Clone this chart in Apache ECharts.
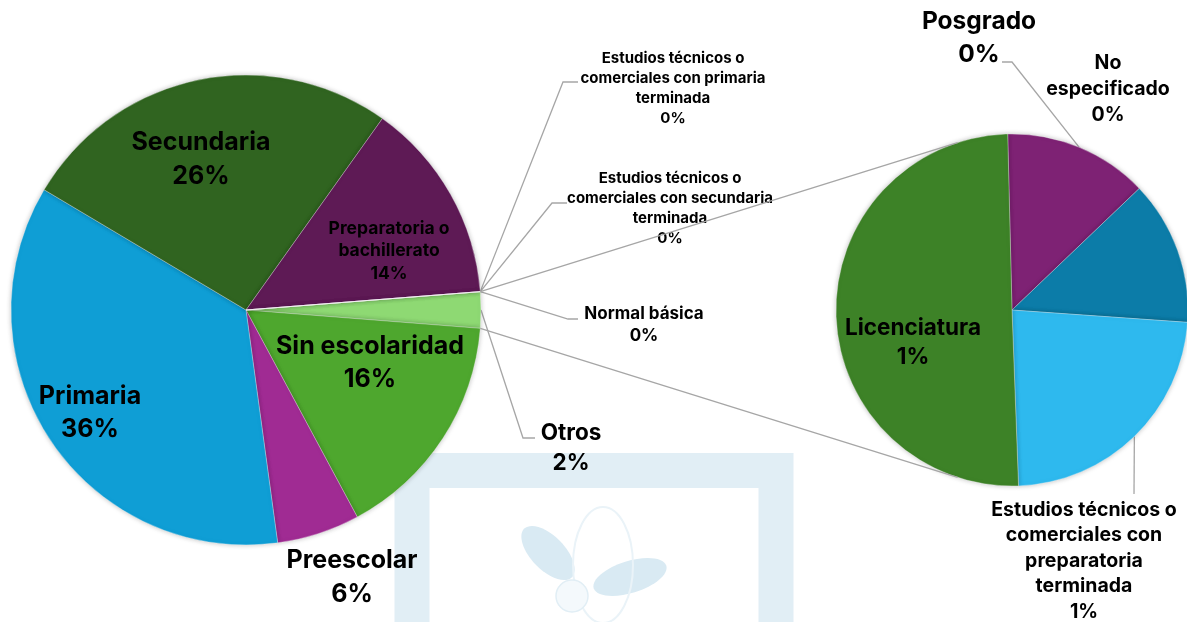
<!DOCTYPE html>
<html>
<head>
<meta charset="utf-8">
<script src="https://cdn.jsdelivr.net/npm/echarts@6/dist/echarts.min.js"></script>
<style>
  html, body { margin: 0; padding: 0; background: #ffffff; }
  #chart { width: 1187px; height: 622px; }
</style>
</head>
<body>
<div id="chart"></div>
<script>
// main pie categories (clockwise after the "Otros" wedge), % of total
const mainNames = ['Sin escolaridad', 'Preescolar', 'Primaria', 'Secundaria', 'Preparatoria o bachillerato'];
const mainValues = [15.9, 5.7, 35.7, 26.3, 13.9];
const mainColors = ['#4EA72E', '#A02B93', '#0F9ED5', '#306420', '#5E1A55'];
const othersName = 'Otros';
const othersColor = '#8ED973';

// breakdown of "Otros" (secondary pie), % of total
const otherNames = [
  'Posgrado',
  'No especificado',
  'Estudios técnicos o comerciales con preparatoria terminada',
  'Licenciatura',
  'Estudios técnicos o comerciales con primaria terminada',
  'Estudios técnicos o comerciales con secundaria terminada',
  'Normal básica'
];
const otherValues = [0.33, 0.33, 0.58, 1.25, 0, 0, 0];
const otherColors = ['#7E2274', '#0C7CA8', '#2EB9EE', '#3D8227', '#999999', '#999999', '#999999'];

// label wrapping as in the original
const wrapped = {
  'Preparatoria o bachillerato': 'Preparatoria o\nbachillerato',
  'No especificado': 'No\nespecificado',
  'Estudios técnicos o comerciales con preparatoria terminada': 'Estudios técnicos o\ncomerciales con\npreparatoria\nterminada',
  'Estudios técnicos o comerciales con primaria terminada': 'Estudios técnicos o\ncomerciales con primaria\nterminada',
  'Estudios técnicos o comerciales con secundaria terminada': 'Estudios técnicos o\ncomerciales con secundaria\nterminada'
};

// label placement (px), font size, line height and leader-line elbows
const labelPlace = {
  'Otros': { x: 571, y: 448, size: 22.5, lh: 30, line: [[523, 438], [535, 438]] },
  'Sin escolaridad': { x: 370, y: 363, size: 25, lh: 33 },
  'Preescolar': { x: 352, y: 577, size: 25, lh: 34 },
  'Primaria': { x: 90, y: 413, size: 25, lh: 33 },
  'Secundaria': { x: 201, y: 159, size: 25, lh: 34 },
  'Preparatoria o bachillerato': { x: 389, y: 251, size: 17.5, lh: 22.5 },
  'Estudios técnicos o comerciales con primaria terminada': { x: 673, y: 88, size: 15, lh: 20, line: [[563, 82], [578, 82]] },
  'Estudios técnicos o comerciales con secundaria terminada': { x: 670, y: 208, size: 15, lh: 20, line: [[552, 203], [567, 203]] },
  'Normal básica': { x: 644, y: 325, size: 17, lh: 22.7, line: [[568, 319], [578, 319]] },
  'Posgrado': { x: 979, y: 38, size: 24.5, lh: 33.3, line: [[1012, 62], [1002, 62]] },
  'No especificado': { x: 1108, y: 89, size: 19.5, lh: 26 },
  'Estudios técnicos o comerciales con preparatoria terminada': { x: 1084, y: 561, size: 19.5, lh: 25.6, line: [[1134, 494]] },
  'Licenciatura': { x: 913, y: 343, size: 22.5, lh: 29 }
};

const MAIN_C = [246, 310], MAIN_R = 235;
const SUB_C = [1012, 310], SUB_R = 176;
const SUB_START = 91.4;
const LINK_ANGLE = 108;
const FONT = 'Inter, "Noto Sans", sans-serif';
const GREY = '#A6A6A6';

const othersSum = otherValues.reduce((a, b) => a + b, 0);
const grandTotal = mainValues.reduce((a, b) => a + b, 0) + othersSum;
const mainStart = othersSum / grandTotal * 180; // "Otros" centred on 3 o'clock

function pct(v) { return Math.round(v / grandTotal * 100) + '%'; }

function item(name, value, color) {
  const p = labelPlace[name];
  return {
    name: name,
    value: value,
    itemStyle: { color: color },
    label: { fontSize: p.size, lineHeight: p.lh },
    labelLine: { show: !!p.line }
  };
}

const mainData = [item(othersName, othersSum, othersColor)]
  .concat(mainNames.map((n, i) => item(n, mainValues[i], mainColors[i])))
  .concat(otherNames.map((n, i) => ({ n, v: otherValues[i], c: otherColors[i] }))
    .filter(d => d.v === 0).map(d => item(d.n, d.v, d.c)));

const subData = otherNames.map((n, i) => ({ n, v: otherValues[i], c: otherColors[i] }))
  .filter(d => d.v > 0).map(d => item(d.n, d.v, d.c));

function layoutFor(data) {
  return function (params) {
    const p = labelPlace[data[params.dataIndex].name];
    const out = { x: p.x, y: p.y, align: 'center', verticalAlign: 'middle' };
    if (p.line && params.labelLinePoints) {
      out.labelLinePoints = [params.labelLinePoints[0]].concat(p.line);
    }
    return out;
  };
}

const baseSeries = {
  type: 'pie',
  clockwise: true,
  avoidLabelOverlap: false,
  minShowLabelAngle: 0,
  label: {
    show: true,
    position: 'outside',
    overflow: 'none',
    color: '#000000',
    fontWeight: 'bold',
    fontFamily: FONT,
    formatter: (p) => (wrapped[p.name] || p.name) + '\n' + pct(p.value)
  },
  labelLine: { length: 10, length2: 10, lineStyle: { color: GREY, width: 1.3 } },
  itemStyle: {
    borderColor: 'rgba(255,255,255,0.6)',
    borderWidth: 0.5,
    shadowBlur: 5,
    shadowColor: 'rgba(0,0,0,0.25)'
  },
  emphasis: { disabled: true }
};

function polar(c, r, deg) {
  const a = deg * Math.PI / 180;
  return [c[0] + r * Math.cos(a), c[1] - r * Math.sin(a)];
}

const topA = polar(MAIN_C, MAIN_R, mainStart);
const botA = polar(MAIN_C, MAIN_R, -mainStart);
const topB = polar(SUB_C, SUB_R, LINK_ANGLE);
const botB = polar(SUB_C, SUB_R, -LINK_ANGLE);

const WM = '#E1EEF5', WM2 = '#D9EAF3';

const option = {
  animation: false,
  backgroundColor: '#ffffff',
  textStyle: { fontFamily: FONT },
  graphic: [
    // faint watermark behind the chart
    { type: 'rect', z: 0, silent: true, shape: { x: 412, y: 470.5, width: 364, height: 200 },
      style: { fill: null, stroke: WM, lineWidth: 35 } },
    { type: 'ellipse', z: 0, silent: true, x: 548, y: 553, rotation: -0.8,
      shape: { cx: 0, cy: 0, rx: 34, ry: 17 }, style: { fill: WM2 } },
    { type: 'ellipse', z: 0, silent: true, x: 630, y: 577, rotation: 0.3,
      shape: { cx: 0, cy: 0, rx: 38, ry: 16 }, style: { fill: WM2 } },
    { type: 'ellipse', z: 0, silent: true,
      shape: { cx: 603, cy: 565, rx: 30, ry: 58 }, style: { fill: null, stroke: '#EAF3F8', lineWidth: 2 } },
    { type: 'circle', z: 0, silent: true,
      shape: { cx: 572, cy: 596, r: 16 }, style: { fill: '#F4F9FC', stroke: WM, lineWidth: 1.5 } },
    // connector lines between the two pies
    { type: 'line', z: 100, silent: true,
      shape: { x1: topA[0], y1: topA[1], x2: topB[0], y2: topB[1] },
      style: { stroke: GREY, lineWidth: 1.3 } },
    { type: 'line', z: 100, silent: true,
      shape: { x1: botA[0], y1: botA[1], x2: botB[0], y2: botB[1] },
      style: { stroke: GREY, lineWidth: 1.3 } }
  ],
  series: [
    Object.assign({}, baseSeries, {
      center: MAIN_C,
      radius: MAIN_R,
      startAngle: mainStart,
      data: mainData,
      labelLayout: layoutFor(mainData)
    }),
    Object.assign({}, baseSeries, {
      center: SUB_C,
      radius: SUB_R,
      startAngle: SUB_START,
      data: subData,
      labelLayout: layoutFor(subData)
    })
  ]
};

const chart = echarts.init(document.getElementById('chart'), null, { renderer: 'canvas' });
chart.setOption(option);
</script>
</body>
</html>
